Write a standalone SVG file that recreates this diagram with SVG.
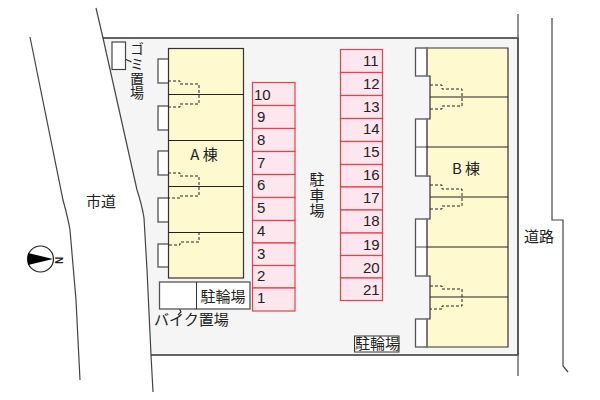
<svg xmlns="http://www.w3.org/2000/svg" width="600" height="400" viewBox="0 0 600 400">
<style>
text{font-family:"Noto Sans CJK JP","Liberation Sans",sans-serif;fill:#222;font-size:15px}
.n{font-family:"Liberation Sans",Arial,sans-serif;font-size:15px;fill:#222}
.c{text-anchor:middle}
.v{writing-mode:vertical-rl}
.b{fill:#fff9cf;stroke:#333;stroke-width:1.2}
.d{fill:none;stroke:#222;stroke-width:1.1}
.box{fill:#fff;stroke:#555;stroke-width:1.3}
.dash{fill:none;stroke:#222;stroke-width:1;stroke-dasharray:3 2}
.p{fill:#fde6ee;stroke:#e8404c;stroke-width:1.2}
.road{fill:none;stroke:#444;stroke-width:1.2}
</style>
<rect width="600" height="400" fill="#fff"/>
<g id="site">
<polygon points="103,38 518,38 518,355 151,355 147,270 144,218 137,190" fill="#f5f5f5"/>
</g>
<g id="connectors">
<path class="road" d="M96,8 L103,38 L137,190 Q142,205 144,218 L147,270 L151,355 L153,392"/>
<path d="M103,38H518V355H151" fill="none" stroke="#333" stroke-width="1.6"/>
<path d="M518,14V38M518,355V376" fill="none" stroke="#777" stroke-width="1.6"/>
<path class="road" d="M30,37 L63,200 Q68,218 70,230 L76,300 L80,380"/>
<path class="road" d="M552,18V220H563V366L568,372"/>
<path class="d" d="M120.500,57 L131.500,62"/>
<path class="d" d="M177,304L181,312L178,315"/>
</g>
<g id="building-a">
<rect class="box" x="158" y="59" width="11" height="24"/>
<rect class="box" x="158" y="106" width="11" height="24"/>
<rect class="box" x="158" y="151" width="11" height="24"/>
<rect class="box" x="158" y="198" width="11" height="24"/>
<rect class="box" x="158" y="244" width="11" height="23"/>
<rect class="b" x="168.500" y="48.500" width="75" height="229.500"/>
<path class="d" d="M168.500,94.500H243.500M168.500,140.500H243.500M168.500,186.500H243.500M168.500,232.500H243.500"/>
<path class="dash" d="M168,81H180V84H199V104H180V107H168"/>
<path class="dash" d="M168,173H180V176H199V196H180V198H168"/>
<path class="dash" d="M199,232V242H180V245H168"/>
<text class="c" x="204" y="160">A 棟</text>
</g>
<g id="building-b">
<path d="M427,48H508V347H427V319H430V276H427V219H430V176H427V119H430V76H427Z" fill="#fff9cf" stroke="#333" stroke-width="1.200"/>
<rect class="box" x="415.500" y="48" width="11.500" height="28"/>
<rect class="box" x="415.500" y="119" width="11.500" height="57"/>
<rect class="box" x="415.500" y="219" width="11.500" height="57"/>
<rect class="box" x="415.500" y="319" width="11.500" height="28"/>
<path d="M427,48V76M427,119V176M427,219V276M427,319V347" stroke="#777" stroke-width="1.800"/>
<path d="M415.500,147H427M415.500,247H427" stroke="#444"/>
<path class="d" d="M430,97H508M427,147H508M430,197H508M427,247H508M430,297H508"/>
<path class="dash" d="M430,85H442V89H462V106H442V109H430"/>
<path class="dash" d="M430,185H442V189H462V206H442V209H430"/>
<path class="dash" d="M430,286H442V289H462V306H442V309H430"/>
<text class="c" x="466" y="174">B 棟</text>
</g>
<g id="parking-left">
<rect class="p" x="252.500" y="82.500" width="42.500" height="23"/><text class="n" x="254" y="100">10</text>
<rect class="p" x="252.500" y="105.500" width="42.500" height="23"/><text class="n" x="257" y="122">9</text>
<rect class="p" x="252.500" y="128.500" width="42.500" height="23"/><text class="n" x="257" y="145">8</text>
<rect class="p" x="252.500" y="151.500" width="42.500" height="23"/><text class="n" x="257" y="168">7</text>
<rect class="p" x="252.500" y="174.500" width="42.500" height="23"/><text class="n" x="257" y="190">6</text>
<rect class="p" x="252.500" y="197.500" width="42.500" height="23"/><text class="n" x="257" y="213">5</text>
<rect class="p" x="252.500" y="220.500" width="42.500" height="22.500"/><text class="n" x="257" y="236">4</text>
<rect class="p" x="252.500" y="243" width="42.500" height="22.500"/><text class="n" x="257" y="259">3</text>
<rect class="p" x="252.500" y="265.500" width="42.500" height="22.500"/><text class="n" x="257" y="281">2</text>
<rect class="p" x="252.500" y="288" width="42.500" height="23"/><text class="n" x="257" y="303">1</text>
</g>
<g id="parking-right">
<rect class="p" x="340.500" y="49.500" width="42" height="23"/><text class="n" x="363" y="66">11</text>
<rect class="p" x="340.500" y="72.500" width="42" height="23"/><text class="n" x="363" y="89">12</text>
<rect class="p" x="340.500" y="95.500" width="42" height="23"/><text class="n" x="363" y="112">13</text>
<rect class="p" x="340.500" y="118.500" width="42" height="23"/><text class="n" x="363" y="134">14</text>
<rect class="p" x="340.500" y="141.500" width="42" height="23"/><text class="n" x="363" y="157">15</text>
<rect class="p" x="340.500" y="164.500" width="42" height="22.500"/><text class="n" x="363" y="180">16</text>
<rect class="p" x="340.500" y="187" width="42" height="23"/><text class="n" x="363" y="203">17</text>
<rect class="p" x="340.500" y="210" width="42" height="23"/><text class="n" x="363" y="226">18</text>
<rect class="p" x="340.500" y="233" width="42" height="22.500"/><text class="n" x="363" y="250">19</text>
<rect class="p" x="340.500" y="255.500" width="42" height="22.500"/><text class="n" x="363" y="273">20</text>
<rect class="p" x="340.500" y="278" width="42" height="22.500"/><text class="n" x="363" y="295">21</text>
</g>
<g id="garbage">
<rect x="112" y="42" width="13.500" height="27.500" fill="#fff" stroke="#444" stroke-width="1.200"/>
<text class="v" x="137" y="42" style="font-size:14px;letter-spacing:.6px">ゴミ置場</text>
</g>
<g id="bike">
<rect x="159.500" y="282" width="90.500" height="27" fill="#fff" stroke="#555" stroke-width="1.300"/>
<path d="M196.500,282V309" stroke="#333"/>
<text x="200.500" y="302">駐輪場</text>
<text x="154" y="325">バイク置場</text>
</g>
<g id="bike-2">
<rect x="354.500" y="336" width="44.500" height="16" fill="#fff" stroke="#333"/>
<text x="355" y="349">駐輪場</text>
</g>
<g id="labels">
<text class="v" x="317" y="172" style="letter-spacing:.4px">駐車場</text>
<text x="86" y="207">市道</text>
<text x="524" y="242">道路</text>
</g>
<g id="compass">
<circle cx="40.500" cy="259" r="13" fill="#fff" stroke="#222" stroke-width="1.200"/>
<polygon points="28,253 53,259 28,265" fill="#000"/>
<text class="n c" transform="translate(63,260.500) rotate(-90)" style="font-size:10px;font-weight:bold">N</text>
</g>
</svg>
